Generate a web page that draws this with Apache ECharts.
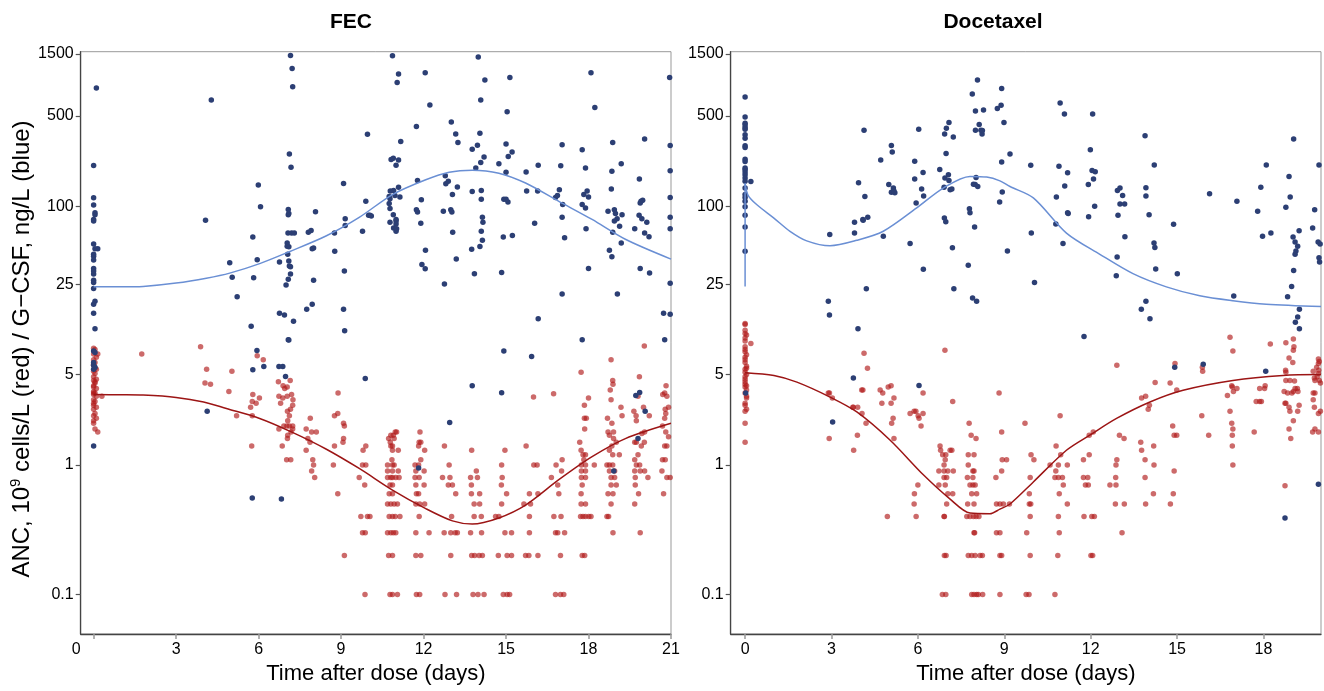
<!DOCTYPE html>
<html>
<head>
<meta charset="utf-8">
<title>ANC / G-CSF</title>
<script src="https://cdn.jsdelivr.net/npm/echarts@6/dist/echarts.min.js"></script>
<style>
    html, body { margin: 0; padding: 0; background: #fff; }
    #chart { width: 1324px; height: 691px; }
</style>
</head>
<body>
<div id="chart"></div>
<script>
    // tick labels of the log y axis (real units)
    var yTickVals = [0.1, 1, 5, 25, 100, 500, 1500];
    var fecTicks = [0, 3, 6, 9, 12, 15, 18, 21];
    var docTicks = [0, 3, 6, 9, 12, 15, 18];

    // FEC, ANC (red), [day, 10^9 cells/L]
    var fecAnc = [
        [0,8.0],[0.05,7.8],[0,7.2],[0.1,6.8],[0,6.5],[0.05,6.2],[0,5.9],[0.1,5.5],[0,5.3],[0.05,5.1],[0,4.8],[0.1,4.6],[0,4.5],[0.05,4.3],[0,4.1],[0.1,3.9],[0,3.7],[0.05,3.6],[0,3.5],[0.1,3.4],[0,3.2],[0.05,3.1],[0,2.9],[0.1,2.8],[0,2.7],[0.05,2.5],[0,2.4],[0.1,2.3],[0,2.1],[0.05,1.9],[0.15,1.8],[0.15,7.2],[0.3,3.4],[0,4.0],[0,3.0],[0,3.6],[0.05,5.6],[0,2.2],[0.05,4.4],[0,6.0],
        [1.75,7.2],[3.89,8.2],[4.11,5.5],[4.05,4.3],[4.25,4.2],[4.92,3.7],[5.03,5.3],[5.2,2.4],[5.71,2.8],[5.77,2.4],[5.79,3.5],[5.77,3.1],[5.91,3.0],[6.03,3.3],[5.95,7.0],[6.17,6.5],[5.75,1.4],
        [6.72,4.4],[6.89,4.1],[6.95,3.9],[7.04,4.0],[7.15,4.5],[6.74,3.4],[6.88,3.3],[7.04,3.4],[7.2,3.5],[7.25,3.2],[7.24,2.9],[7.16,2.7],[7.05,2.6],[7.12,2.4],[6.8,3.0],[7.06,2.2],
        [6.74,1.9],[6.92,2.0],[7.03,2.0],[7.12,2.0],[7.24,2.0],[7.24,1.9],[7.18,1.8],[7.06,1.7],[7.05,1.6],[6.86,1.4],[7.02,1.1],[7.17,1.1],
        [7.73,1.9],[7.88,2.3],[7.79,1.6],[7.93,1.8],[8.1,1.8],[7.87,1.5],[7.73,1.3],[7.97,1.1],[8.0,1.0],[7.93,0.9],[8.04,0.8],
        [8.72,1.0],[8.76,1.4],[8.76,2.4],[8.88,2.5],[8.89,3.6],[9.09,2.1],[9.12,2.0],[9.09,1.6],[9.07,1.5],[8.88,0.6],[9.12,0.2],
        [9.66,0.8],[9.8,1.3],[9.9,1.4],[9.78,1.0],[9.9,1.0],[9.86,0.7],[9.72,0.4],[9.96,0.4],[9.78,0.3],[9.88,0.3],[9.87,0.1],[10.05,0.4],
        [10.73,1.6],[10.81,1.7],[10.9,1.7],[10.97,1.8],[11.02,1.8],[10.79,1.5],[10.93,1.6],[10.81,1.4],[10.87,1.4],[10.87,1.3],[11.08,1.3],[10.85,1.1],
        [10.69,1.0],[10.87,1.0],[10.93,1.0],[10.69,0.9],[10.87,0.9],[11.08,0.9],[10.69,0.8],[10.81,0.8],[10.87,0.8],[10.99,0.8],[11.11,0.8],
        [10.78,0.7],[10.87,0.7],[10.75,0.6],[10.87,0.6],[10.69,0.5],[10.81,0.5],[10.93,0.5],[11.05,0.5],[10.75,0.4],[10.87,0.4],[10.97,0.4],[11.14,0.4],
        [10.69,0.3],[10.81,0.3],[10.9,0.3],[10.99,0.3],[10.73,0.2],[10.87,0.2],[10.78,0.1],[10.87,0.1],[11.05,0.1],
        [11.87,1.8],[11.84,1.5],[11.9,1.5],[11.82,1.4],[12.04,1.3],[11.9,1.1],[11.69,1.0],[11.82,1.0],[11.72,0.9],[12.02,0.9],[11.69,0.8],[11.84,0.8],
        [11.72,0.7],[12.02,0.7],[11.74,0.6],[11.82,0.6],[11.72,0.5],[11.86,0.5],[12.04,0.5],[11.84,0.4],[11.72,0.3],[12.2,0.3],[11.72,0.2],[11.9,0.2],[11.74,0.1],[11.86,0.1],
        [12.76,1.4],[12.93,1.0],[12.69,0.8],[12.96,0.8],[12.9,0.7],[13.05,0.7],[13.17,0.6],[13.02,0.4],[12.75,0.3],[12.99,0.3],[13.15,0.3],[13.23,0.3],[12.99,0.2],[12.78,0.1],[13.2,0.1],
        [13.75,1.3],[13.92,0.9],[13.71,0.8],[13.96,0.8],[13.74,0.7],[13.74,0.6],[14.04,0.6],[13.84,0.5],[14.04,0.5],[13.84,0.4],[14.1,0.4],[13.71,0.3],[14.11,0.3],
        [13.75,0.2],[13.86,0.2],[14.02,0.2],[14.14,0.2],[13.8,0.1],[13.98,0.1],[14.2,0.1],
        [14.96,1.3],[14.84,1.0],[14.86,0.8],[14.83,0.7],[15.02,0.6],[14.84,0.5],[14.62,0.4],[14.74,0.4],[14.96,0.3],[15.2,0.3],[14.72,0.2],[15.04,0.2],[15.2,0.2],[14.9,0.1],[15.04,0.1],[15.13,0.1],
        [15.73,1.4],[16.0,3.35],[16.73,3.56],[16.01,1.0],[16.13,1.0],[15.85,0.6],[16.16,0.6],[15.65,0.5],[15.89,0.5],[15.85,0.4],[15.85,0.3],[15.71,0.2],[15.83,0.2],[16.16,0.2],
        [17.04,1.1],[16.82,1.0],[17.02,0.9],[16.65,0.8],[16.88,0.7],[16.92,0.6],[16.74,0.4],[17.0,0.4],[16.8,0.3],[16.88,0.3],[17.13,0.3],[16.98,0.2],[16.8,0.1],[16.98,0.1],[17.1,0.1],
        [17.73,5.2],[18.0,3.3],[17.85,2.9],[17.85,2.3],[17.92,2.3],[17.86,1.9],[17.68,1.5],[17.73,1.3],[17.8,1.2],[17.89,1.2],[17.83,1.1],[17.74,1.0],[17.89,1.0],[18.21,1.0],
        [17.74,0.9],[17.89,0.9],[17.74,0.8],[17.89,0.8],[17.77,0.7],[17.73,0.6],[17.73,0.5],[17.89,0.5],[17.71,0.4],[17.8,0.4],[17.89,0.4],[18.01,0.4],[18.09,0.4],[17.77,0.2],[17.86,0.2],
        [18.82,6.5],[18.88,4.5],[18.89,4.2],[18.79,3.8],[18.82,3.2],[19.18,2.8],[19.22,2.4],[18.69,2.3],[18.71,1.8],[18.76,1.7],[18.85,2.1],[18.91,1.8],[18.91,1.6],[19.01,1.5],[18.85,1.4],[18.76,1.3],[18.88,1.2],[19.12,1.2],
        [18.67,1.0],[18.76,1.0],[18.88,1.0],[18.76,0.9],[18.95,0.9],[18.82,0.8],[18.95,0.8],[18.82,0.7],[19.01,0.7],[18.71,0.6],[18.89,0.6],[18.82,0.5],[18.67,0.4],[18.73,0.4],[18.89,0.3],
        [20.03,8.3],[19.85,4.8],[19.8,3.4],[19.65,2.6],[19.73,2.4],[19.74,2.2],[20.21,2.4],[20.0,2.8],[20.04,1.8],[19.94,1.75],[19.68,1.5],[19.74,1.5],[19.92,1.4],[20.03,1.5],[19.8,1.2],[19.68,1.1],
        [19.74,1.0],[19.86,1.0],[19.68,0.9],[19.88,0.9],[20.04,0.9],[19.7,0.8],[20.16,0.8],[19.7,0.7],[19.82,0.6],[19.68,0.5],[19.88,0.3],
        [20.82,4.1],[20.77,3.6],[20.7,3.5],[20.85,3.4],[20.79,2.7],[20.77,2.3],[20.81,2.5],[20.91,2.8],[20.69,2.0],[20.81,1.8],[20.91,1.65],[20.77,1.4],[20.85,1.4],[20.69,1.1],[20.79,1.1],[20.67,0.9],[20.85,0.8],[20.97,0.8],[20.73,0.6]
    ];

    // FEC, G-CSF (blue), [day, ng/L]
    var fecGcsf = [
        [0.1,820],[0,206],[0,116],[0,102],[0.05,89],[0.05,86],[0,79],[0,77],[0,51],[0.05,47],[0.15,47],[0,42.5],[0,41],[0,38.4],[0,33],[0,31.6],[0,29.9],[0,26.8],[0,25.7],[0,23.1],[0.05,18.4],[0,17.5],[0,14.9],[0.05,11.3],[0,7.6],[0.05,7.4],[0,6.2],[0,5.9],[0.05,5.7],[0,5.5],[0,1.4],
        [4.28,662],[4.07,78],[4.95,36.5],[5.04,28.3],[5.22,20],[5.73,11.8],[5.79,57.8],[5.82,28],[5.95,38.6],[5.99,146],[6.07,99],
        [6.76,37],[6.76,14.9],[6.94,14.4],[7.0,24.6],[7.04,52],[7.04,49],[7.06,42.5],[7.1,48.5],[7.08,86],[7.1,88],[7.08,94.5],[7.07,62],[7.2,62],[7.3,62],[7.12,253],[7.18,200],[7.16,1460],[7.22,1159],[7.24,838],[7.1,37.8],[7.12,34.5],[7.16,34],[7.16,29.9],[7.08,27.3],[7.27,12.9],[7.08,9.3],
        [7.75,16],[7.95,17.5],[8.0,26.8],[8.07,90.5],[7.81,63],[7.91,65],[7.95,47],[8.0,47.5],[8.76,62],[8.77,44.8],[9.09,150],[9.15,80],[9.15,71],[9.12,31.6],[9.09,16],[9.13,10.9],[9.78,64],[9.9,109],[9.96,360],[10.0,85],
        [5.94,7.67],[5.79,5.45],[6.19,5.77],[6.74,5.77],[6.88,5.77],[6.98,4.84],[7.1,9.25],[4.13,2.6],[5.77,0.555],[6.83,0.545],[9.88,4.67],
        [10.87,1452],[11.09,1050],[11.04,903],[12.06,1074],[12.23,606],[11.17,316],[10.82,230],[10.9,235],[11.09,228],[11.0,207],[11.74,413],[13.01,448],[13.17,362],[13.25,311],[13.77,276],[13.96,296],[14.05,366],[13.99,1425],[14.23,944],[14.08,662],
        [15.14,988],[15.04,538],[15.0,303],[15.22,262],[15.08,242],[14.2,240],[14.08,218],[13.9,197],[14.74,213],[15.0,183],[15.73,184],[16.17,207],[17.04,298],[16.99,205],[18.09,1074],[18.23,578],[17.77,273],[17.89,197],[18.88,311],[19.19,213],[18.85,186],[20.04,330],[19.85,162],
        [20.95,988],[20.97,294],[20.97,188],[20.97,117],[20.97,82],[20.97,67],[20.97,25.4],[20.97,14.6],[20.73,14.9],[20.77,9.3],
        [11.78,158],[10.79,131],[10.91,132],[11.09,140],[10.75,119],[10.78,114],[10.96,121],[11.14,118],[10.75,105],[10.78,96],[10.9,86],[11.0,79],[11.0,77],[11.0,73],[10.78,75],[10.91,68],[11.02,67],[11.0,64],[10.05,85],[10.1,84],
        [11.92,112],[11.74,94],[11.78,90],[11.9,74],[12.07,45.7],[11.94,35.4],[12.06,32.9],[12.76,25],[12.81,149],[12.9,156],[12.79,172],[13.23,141],[13.05,123],[12.72,91.5],[12.99,94],[13.03,90],[13.06,63],[13.19,39],
        [13.77,130],[14.1,132],[14.1,113],[14.14,82],[14.16,75],[14.1,64],[14.14,54.5],[14.05,48.8],[13.75,46.4],[13.85,30],[14.92,113],[15.0,113],[15.07,108],[14.9,57.8],[15.23,59.5],[14.84,30.7],
        [15.75,131],[16.15,131],[16.04,74],[16.17,13.5],[16.8,117],[16.87,121],[16.94,134],[17.06,103],[17.04,82],[17.13,57],[17.04,21],[17.77,103],[17.83,123],[17.95,131],[18.0,118],[17.89,97],[17.91,67],[18.0,33],[17.77,9.3],
        [18.71,91.5],[18.94,94],[18.98,88],[19.04,80],[18.94,77],[18.83,136],[18.88,63],[19.22,86],[19.13,70],[19.19,52],[18.76,45.7],[18.85,40.6],[19.05,21],
        [19.88,106],[19.91,109],[19.97,111],[19.84,85],[19.94,80],[20.12,75],[19.68,67],[20.04,62],[20.2,58],[19.88,33],[20.22,30.4],
        [11.82,0.95],[12.95,2.13],[13.77,4.1],[14.84,3.62],[14.92,7.6],[15.93,6.9],[19.72,3.45],[19.86,3.64],[20.06,2.6],[19.8,1.6],[18.92,0.9]
    ];

    // Docetaxel, ANC (red)
    var docAnc = [
        [0,12.4],[0,12.2],[0,10.4],[0.05,10.1],[0,9.1],[0.2,8.7],[0,8.2],[0,7.5],[0.05,7.1],[0,6.8],[0,6.2],[0.05,5.8],[0,5.5],[0,5.2],[0.05,5.0],[0,4.6],[0,4.4],[0.05,4.1],[0,4.0],[0,3.6],[0.05,3.3],[0,3.0],[0,2.9],[0.05,2.7],[0,2.6],[0,2.1],[0,1.5],[0,6.5],[0.05,5.6],[0,4.8],[0,4.2],[0.05,3.8],[0,9.6],[0,11.0],[0,7.8],[0.05,3.4],
        [2.89,3.6],[2.93,3.6],[3.03,3.3],[2.92,1.6],[3.77,1.3],[3.76,2.8],[3.91,2.8],[3.74,2.8],[4.09,3.8],[4.05,3.8],[4.06,2.5],[4.2,2.1],[3.9,1.7],[4.13,7.3],[4.25,5.6],
        [4.69,3.8],[4.78,3.6],[4.75,3.0],[4.97,4.0],[5.07,4.1],[5.17,3.3],[5.07,3.0],[5.14,2.3],[5.09,2.1],[5.17,1.6],[4.94,0.4],
        [5.73,2.5],[5.87,2.6],[5.93,2.6],[6.01,2.4],[6.11,2.0],[6.18,2.5],[6.04,2.3],[6.18,3.6],[6.0,0.7],[5.88,0.6],[5.87,0.5],[5.94,0.4],[6.94,7.7],[7.21,3.1],
        [6.77,1.4],[6.79,1.3],[7.12,1.3],[7.18,1.3],[6.86,1.2],[6.97,1.2],[6.95,1.1],[6.91,1.0],[6.73,0.9],[6.91,0.9],[7.04,0.9],[7.23,0.9],[6.91,0.8],[7.0,0.8],[6.73,0.7],[6.95,0.7],[7.04,0.6],[7.21,0.6],[7.0,0.5],[6.91,0.4],[6.92,0.4],[6.92,0.2],[6.98,0.2],[6.85,0.1],[6.97,0.1],
        [7.78,2.1],[7.85,1.7],[8.02,1.6],[7.75,1.2],[7.95,1.2],[7.75,1.0],[7.91,0.9],[7.95,0.9],[7.72,0.8],[7.91,0.8],[7.81,0.7],[7.91,0.7],[7.99,0.7],[7.87,0.6],[8.04,0.6],[7.73,0.5],[7.95,0.5],
        [7.7,0.4],[7.81,0.4],[7.93,0.4],[8.02,0.4],[8.12,0.4],[7.95,0.3],[7.97,0.3],[7.75,0.2],[7.87,0.2],[7.99,0.2],[8.16,0.2],[8.24,0.2],[7.87,0.1],[7.95,0.1],[8.04,0.1],[8.1,0.1],[8.25,0.1],
        [8.82,3.6],[8.91,1.8],[8.93,1.1],[9.08,1.1],[8.91,0.9],[8.71,0.8],[8.73,0.5],[8.85,0.5],[8.97,0.5],[9.18,0.5],[8.73,0.3],[8.85,0.3],[8.85,0.2],[8.91,0.2],[8.85,0.1],
        [9.72,2.1],[9.93,1.2],[10.03,1.1],[9.9,0.8],[9.87,0.6],[9.87,0.5],[9.92,0.5],[9.9,0.4],[9.78,0.3],[9.9,0.2],[9.76,0.1],[9.86,0.1],
        [10.94,2.4],[10.8,1.4],[10.96,1.2],[10.59,1.0],[10.88,1.0],[11.19,1.0],[10.79,0.9],[10.76,0.8],[10.88,0.8],[11.02,0.8],[11.05,0.7],[10.91,0.6],[11.19,0.5],[10.88,0.4],[10.91,0.3],[10.86,0.2],[10.76,0.1],
        [11.95,1.7],[12.09,1.8],[11.95,1.2],[11.75,1.1],[11.75,0.8],[11.9,0.8],[11.82,0.7],[11.92,0.7],[11.77,0.4],[12.04,0.4],[12.13,0.4],[12.01,0.2],[12.07,0.2],
        [12.91,5.9],[13.0,1.7],[13.16,1.6],[12.91,1.1],[12.88,1.0],[12.87,0.8],[12.67,0.7],[12.88,0.7],[12.86,0.5],[13.17,0.5],[13.09,0.3],
        [13.77,3.3],[13.91,3.4],[14.04,2.9],[14.0,2.7],[14.24,4.35],[13.74,1.5],[13.77,1.3],[14.19,1.4],[13.89,1.1],[14.2,1.0],[13.89,0.8],[14.18,0.6],[13.91,0.5],
        [14.93,6.1],[14.99,3.8],[14.76,4.3],[14.85,2.0],[14.9,1.7],[14.99,1.7],[14.9,0.9],[14.87,0.6],[14.77,0.5],
        [15.88,5.7],[15.89,5.3],[15.86,2.4],[16.1,1.7],
        [16.84,9.7],[16.94,7.6],[16.75,3.45],[16.9,4.1],[16.96,3.7],[17.08,3.9],[16.92,4.0],[16.84,2.6],[16.9,2.1],[16.94,1.9],[16.92,1.7],[16.92,1.4],[16.94,1.0],
        [18.24,8.6],[17.68,1.8],[17.75,3.1],[17.87,3.1],[17.93,3.1],[17.87,3.9],[18.04,3.9],[18.06,4.1],
        [18.78,8.8],[19.04,9.4],[19.06,8.2],[19.04,7.7],[19.02,6.2],[18.89,6.7],[18.77,5.4],[18.78,5.2],[18.78,4.5],[18.92,4.5],[19.08,4.45],[18.72,3.7],[18.84,3.6],[18.99,3.6],[19.1,3.9],[19.18,3.9],[19.04,3.7],[19.2,3.7],
        [18.75,3.0],[18.78,3.0],[18.89,2.8],[18.92,2.6],[19.04,2.2],[19.19,2.6],[19.24,2.9],[18.89,1.9],[18.95,1.6],[18.75,0.69],
        [19.91,6.6],[19.94,6.3],[19.91,6.1],[19.85,5.7],[19.92,5.4],[19.91,5.1],[19.87,4.8],[19.94,4.5],[19.98,4.3],[19.73,5.3],[19.77,4.7],[19.79,4.5],[19.73,3.6],[19.79,3.6],[19.73,3.2],[19.77,2.8],[19.91,2.5],[19.98,2.6],[19.71,1.8],[19.79,1.9],[19.91,1.8]
    ];

    // Docetaxel, G-CSF (blue)
    var docGcsf = [
        [0,698],[0,490],[0,437],[0,425],[0,405],[0,394],[0,356],[0,335],[0,293],[0,284],[0,231],[0,222],[0,197],[0,192],[0,184],[0,175],[0,165],[0,156],[0.2,155],[0,138],[0,123],[0,117],[0,109],[0,99],[0,85],[0,69],[0,44.9],[0.02,3.6],
        [2.94,60.5],[2.89,18.4],[2.93,14.4],[3.8,75],[3.8,62],[3.92,11.3],[4.09,79],[4.1,78],[4.26,82],[3.94,152],[4.13,386],[4.16,119],[4.21,23],[4.71,228],[4.8,58.5],[4.99,147],[5.08,295],[5.11,262],[5.08,128],[5.15,138],[5.2,127],[5.17,131],
        [5.73,51.6],[5.89,223],[5.89,162],[6.03,394],[5.94,106],[6.13,136],[6.18,182],[6.2,120],[6.19,32.5],[6.76,192],[6.93,362],[6.99,400],[7.08,443],[7.23,343],[6.98,256],[7.06,175],[7.08,158],[6.94,165],[7.18,136],[7.12,134],[6.91,140],[6.92,81],[6.97,76],[7.2,47.7],[7.25,23],
        [7.75,35],[7.79,95.5],[7.81,89],[7.97,69],[7.9,19.5],[8.04,18.4],[7.89,736],[8.07,944],[8.0,545],[8.28,554],[8.0,386],[8.13,428],[8.19,386],[8.23,362],[8.24,384],[7.93,148],[7.99,147],[8.08,142],[8.02,167],
        [8.91,813],[8.76,570],[8.89,603],[8.99,443],[8.91,220],[8.93,129],[8.84,108],[9.11,45],[9.2,253],
        [9.92,207],[9.94,62],[10.05,25.7],[10.94,628],[11.09,516],[10.9,204],[11.2,181],[11.1,143],[10.81,118],[11.22,88],[11.2,89],[10.79,73],[11.04,51.6],
        [12.07,516],[11.99,273],[12.05,189],[12.16,185],[12.1,162],[11.92,147],[12.14,100],[11.93,83],[11.77,9.85],
        [12.93,132],[13.02,138],[13.11,121],[13.02,104],[13.18,104],[12.95,85],[13.19,58],[12.92,40.5],[12.89,29],
        [13.89,350],[14.21,208],[13.92,139],[13.92,120],[14.03,86],[14.2,52],[14.23,48],[14.26,32.7],[13.92,18.4],[13.76,16],[14.06,13.5],[14.88,72.5],[15.01,30],
        [16.13,125],[16.97,20.2],[17.08,109],[17.8,91.5],[17.91,140],[18.1,208],[17.97,58.5],[18.26,62],[18.78,98],[18.89,170],[18.93,118],[19.05,330],
        [19.03,57.8],[19.1,53],[19.19,49],[19.13,45],[19.1,42.5],[19.24,64.5],[19.05,31.8],[18.98,24],[18.84,20],[19.25,16],[19.19,13.9],[19.11,12.7],[19.25,11.3],
        [19.78,94],[19.71,68],[19.9,53],[19.97,51],[19.93,40],[19.95,37],[19.93,208],
        [14.92,5.7],[15.91,6.0],[18.08,5.3],[19.91,0.71],[18.75,0.39],[3.76,4.7],[3.04,2.15],[6.04,4.12]
    ];

    // fitted model curves
    var fecAncFit = [[0,3.5],[1,3.49],[1.8,3.47],[3,3.33],[4,3.07],[4.83,2.73],[6.04,2.29],[7.25,1.78],[8.45,1.33],[9.66,0.94],[10.87,0.64],[12.08,0.46],[13.05,0.37],[13.77,0.35],[14.74,0.39],[15.71,0.49],[16.92,0.77],[18.13,1.16],[19.34,1.6],[21,2.1]];
    var fecGcsfFit = [[0,23.8],[1,23.8],[1.8,24],[3,25.5],[4.1,27.8],[4.95,30.4],[6.04,36],[7.12,44.5],[8.45,58.8],[9.66,82],[10.87,123],[12.08,160],[12.93,183],[13.77,190],[14.74,180],[15.71,151],[16.92,109],[18.13,79],[19.34,55.5],[21,39]];
    var docAncFit = [[0,5.17],[1,4.92],[1.8,4.37],[2.95,3.35],[3.88,2.57],[5.03,1.56],[6.19,0.84],[7.12,0.545],[7.81,0.425],[8.5,0.42],[8.85,0.456],[9.2,0.5],[10.01,0.74],[11.16,1.3],[11.97,1.7],[12.9,2.29],[14.06,3.07],[15.21,3.78],[16.94,4.5],[18.68,4.92],[20,5.0]];
    var docGcsfSpike = [[0,24],[0,150]];
    var docGcsfFit = [[0,150],[0.1,122],[0.4,103],[1,81],[1.56,64],[2.14,54],[2.95,49.5],[3.88,54.5],[4.8,64],[5.96,97],[6.88,138],[7.81,170],[8.39,168],[8.85,157],[9.2,142],[10.01,116],[11.16,62],[12.32,42.5],[13.47,30.1],[14.63,23.8],[15.79,20.3],[16.94,18.6],[18.1,17.5],[20,16.8]];

    var FONT = 'Liberation Sans, Arial, Helvetica, sans-serif';
    var RED = '#b01a1a';
    var BLUE = '#2c3f74';

    function toLog(pts) {
        return pts.map(function (p) { return [p[0], Math.log10(p[1])]; });
    }
    var yTickLogs = yTickVals.map(function (v) { return Math.log10(v); });

    function yAxisOf(idx) {
        return {
            type: 'value', gridIndex: idx,
            min: -1.306, max: 3.194,
            axisLine: {show: true, onZero: false, lineStyle: {color: '#444', width: 1.3}},
            axisTick: {show: true, length: 5, customValues: yTickLogs, lineStyle: {color: '#555', width: 1.2}},
            axisLabel: {
                customValues: yTickLogs, fontSize: 16, color: '#000', margin: 7, fontFamily: FONT,
                formatter: function (v) {
                    var x = Math.pow(10, v);
                    return x < 1 ? x.toFixed(1) : String(Math.round(x));
                }
            },
            splitLine: {show: false}
        };
    }

    function xAxisOf(idx, min, max, ticks, labels) {
        return {
            type: 'value', gridIndex: idx, min: min, max: max,
            name: 'Time after dose (days)', nameLocation: 'middle', nameGap: 28,
            nameTextStyle: {fontSize: 22, color: '#000', fontFamily: FONT},
            axisLine: {show: true, onZero: false, lineStyle: {color: '#444', width: 1.3}},
            axisTick: {show: true, length: 5, customValues: ticks, lineStyle: {color: '#999', width: 1.5}},
            axisLabel: {
                customValues: labels, fontSize: 16, color: '#000', margin: 8, fontFamily: FONT,
                formatter: function (v) { return v < 0 ? '{z|0}' : String(v); },
                rich: {z: {fontSize: 16, fontFamily: FONT, color: '#000', padding: [0, 9, 0, 0]}}
            },
            splitLine: {show: false}
        };
    }

    function dots(data, color, opacity, gi) {
        return {
            type: 'scatter', xAxisIndex: gi, yAxisIndex: gi,
            data: toLog(data), symbolSize: 5.5, silent: true,
            itemStyle: {color: color, opacity: opacity}
        };
    }

    function fit(data, color, gi, smooth) {
        return {
            type: 'line', xAxisIndex: gi, yAxisIndex: gi,
            data: toLog(data), showSymbol: false, smooth: smooth, silent: true,
            lineStyle: {color: color, width: 1.5}
        };
    }

    var chart = echarts.init(document.getElementById('chart'));
    chart.setOption({
        animation: false,
        backgroundColor: '#fff',
        grid: [
            {left: 80.7, top: 51.7, width: 590.3, height: 582.3, show: true, borderColor: '#999', borderWidth: 1},
            {left: 730.7, top: 51.7, width: 590.3, height: 582.3, show: true, borderColor: '#999', borderWidth: 1}
        ],
        xAxis: [
            xAxisOf(0, -0.47, 21, fecTicks, [-0.47].concat(fecTicks.slice(1))),
            xAxisOf(1, -0.5, 20, docTicks, docTicks)
        ],
        yAxis: [yAxisOf(0), yAxisOf(1)],
        graphic: [
            {type: 'text', x: 351, y: 22, style: {text: 'FEC', font: 'bold 21px ' + FONT, fill: '#000', align: 'center', verticalAlign: 'middle'}},
            {type: 'text', x: 993, y: 22, style: {text: 'Docetaxel', font: 'bold 21px ' + FONT, fill: '#000', align: 'center', verticalAlign: 'middle'}},
            {
                type: 'text', x: 22, y: 349, rotation: Math.PI / 2,
                style: {
                    text: 'ANC, 10{sup|9} cells/L (red) / G\u2212CSF, ng/L (blue)',
                    font: '24px ' + FONT, fill: '#000', align: 'center', verticalAlign: 'middle',
                    rich: {sup: {fontSize: 15, fontFamily: FONT, fill: '#000', verticalAlign: 'top', lineHeight: 27}}
                }
            }
        ],
        series: [
            dots(fecAnc, RED, 0.65, 0),
            dots(fecGcsf, BLUE, 1, 0),
            fit(fecAncFit, '#9c1515', 0, 0.3),
            fit(fecGcsfFit, '#6a8fd4', 0, 0.3),
            dots(docAnc, RED, 0.65, 1),
            dots(docGcsf, BLUE, 1, 1),
            fit(docAncFit, '#9c1515', 1, 0.3),
            fit(docGcsfSpike, '#6a8fd4', 1, false),
            fit(docGcsfFit, '#6a8fd4', 1, 0.3)
        ]
    });
</script>
</body>
</html>
